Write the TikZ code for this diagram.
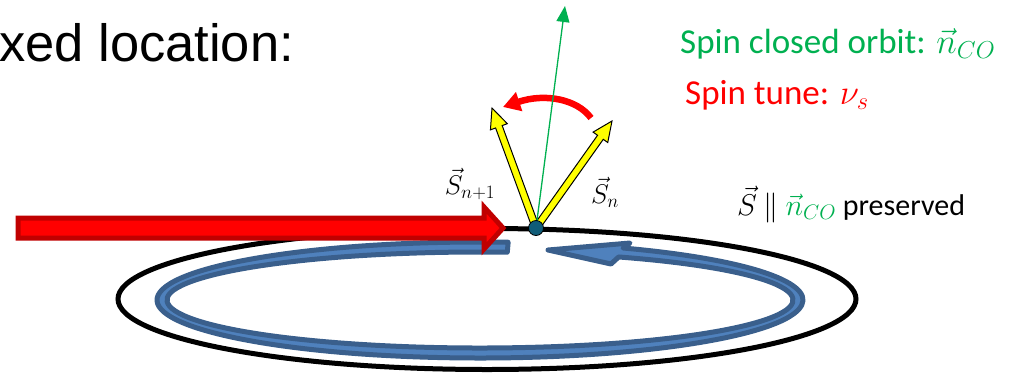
\RequirePackage{fix-cm}
\documentclass[tikz,border=0pt]{standalone}
\usepackage{fontspec}
\setmainfont{Carlito}
\newfontfamily\arialfont{Liberation Sans}
\usetikzlibrary{calc,arrows.meta}
\definecolor{ppred}{RGB}{255,0,0}
\definecolor{darkred}{RGB}{192,0,0}
\definecolor{ppgreen}{RGB}{0,176,80}
\definecolor{ringfill}{RGB}{79,129,189}
\definecolor{ringline}{RGB}{58,95,140}
\definecolor{dotfill}{RGB}{16,92,120}
\definecolor{ppyellow}{RGB}{255,255,0}
\newcommand{\blkarrow}[6]{%
  \coordinate (ba-hb) at ($(#3)!#6!(#2)$);
  \path[#1] ($(#2)!#4!90:(#3)$) -- ($(ba-hb)!#4!90:(#3)$) -- ($(ba-hb)!#5!90:(#3)$) -- (#3)
    -- ($(ba-hb)!#5!-90:(#3)$) -- ($(ba-hb)!#4!-90:(#3)$) -- ($(#2)!#4!-90:(#3)$) -- cycle;
}
\tikzset{
  orbit/.style={draw=black, line width=5pt},
  ring/.style={fill=ringfill, draw=ringline, line width=5pt, line join=round},
  bigred/.style={fill=ppred, draw=darkred, line width=5pt, line join=miter},
  spinarrow/.style={fill=ppyellow, draw=black, line width=1pt, line join=miter},
  tunearrow/.style={draw=ppred, line width=6.5pt, -{Triangle[width=19pt,length=17pt]}},
  coarrow/.style={draw=ppgreen, line width=1.3pt, -{Triangle[width=13pt,length=16pt]}},
  txt/.style={anchor=base west, inner sep=0pt},
}
\begin{document}
\begin{tikzpicture}[x=1pt,y=1pt]
\useasboundingbox (0,0) rectangle (1021,-373);
% orbit
\coordinate (oc) at (487,-299);
\draw[orbit] (oc) ellipse[x radius=369pt, y radius=70.5pt];
% beam circulation ring
\coordinate (rc) at (480,-300);
\coordinate (rhtop) at (630,-243);
\coordinate (rtip) at (548,-250);
\coordinate (rhbot) at (611,-264);
\path[ring] ($(rc)+(85:323pt and 58pt)$) arc[start angle=85, end angle=423.7, x radius=323pt, y radius=58pt]
  -- (rhtop) -- (rtip) -- (rhbot)
  -- ($(rc)+(423.7:313pt and 48pt)$) arc[start angle=423.7, end angle=85, x radius=313pt, y radius=48pt] -- cycle;
% incoming beam
\path[bigred] (18,-218) -- (484,-218) -- (484,-207) -- (503,-228) -- (484,-249) -- (484,-238) -- (18,-238) -- cycle;
% spin vectors
\coordinate (p0) at (536,-228);
\coordinate (snext) at (492,-108);
\coordinate (scur) at (612,-121);
\blkarrow{spinarrow}{p0}{scur}{3.5pt}{9pt}{20pt}
\blkarrow{spinarrow}{p0}{snext}{3.5pt}{9pt}{20pt}
% spin tune rotation
\coordinate (tstart) at (591,-118);
\coordinate (tend) at (503,-107);
\draw[tunearrow] (tstart) .. controls (577,-99) and (545,-93) .. (tend);
% closed orbit axis
\coordinate (ntip) at (565,-6);
\draw[coarrow] (p0) -- (ntip);
% point
\node[circle, fill=dotfill, draw=black, line width=0.8pt, minimum size=15pt, inner sep=0pt] (dot) at (p0) {};
% texts
\node[txt, font=\arialfont\fontsize{52.5}{60}\selectfont] (title) at (-1,-61) {xed location:};
\node[txt, text=ppgreen, font=\fontsize{35}{40}\selectfont] (nco) at (680,-53) {Spin closed orbit: $\vec{n}_{CO}$};
\node[txt, text=ppred, font=\fontsize{35}{40}\selectfont] (tune) at (685,-104) {Spin tune: $\nu_s$};
\node[txt, font=\fontsize{30}{36}\selectfont] (pres) at (737,-215) {$\vec{S}$ $\parallel$ {\color{ppgreen}$\vec{n}_{CO}$} preserved};
\node[font=\fontsize{27}{32}\selectfont] (snl) at (470,-184) {$\vec{S}_{n+1}$};
\node[font=\fontsize{27}{32}\selectfont] (snr) at (605,-192) {$\vec{S}_n$};
\end{tikzpicture}
\end{document}
